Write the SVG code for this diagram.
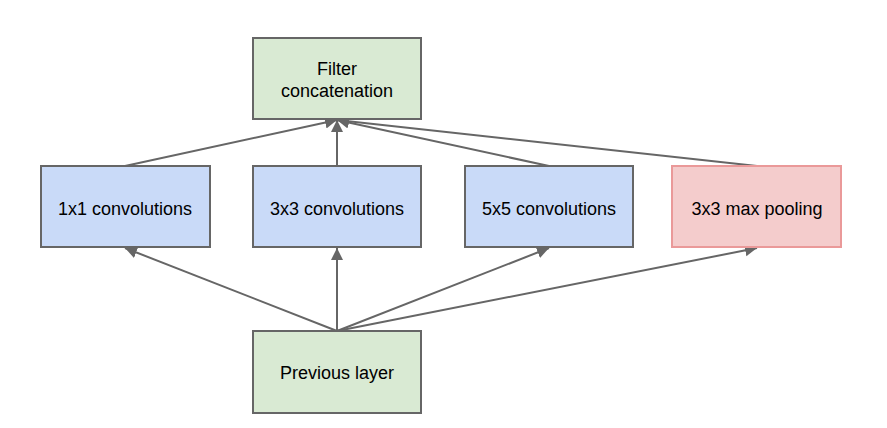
<svg xmlns="http://www.w3.org/2000/svg" width="887" height="428" viewBox="0 0 887 428">
<style>
.box{stroke:#666666;stroke-width:2}
.g{fill:#d9ead3}
.b{fill:#c9daf8}
.r{fill:#f4cccc;stroke:#ea9999;stroke-width:2}
text{font-family:"Liberation Sans",Arial,sans-serif;font-size:18px;fill:#000;text-anchor:middle}
.c line{stroke:#666666;stroke-width:2;marker-end:url(#ah)}
</style>
<defs>
<marker id="ah" markerUnits="userSpaceOnUse" markerWidth="14" markerHeight="14" refX="12" refY="6" orient="auto">
<path d="M0,0 L12,6 L0,12 z" fill="#666666"/>
</marker>
</defs>
<rect width="887" height="428" fill="#ffffff"/>
<g class="c" id="connectors">
<line x1="125" y1="166" x2="337" y2="120"/>
<line x1="337" y1="166" x2="337" y2="120"/>
<line x1="549" y1="166" x2="337" y2="120"/>
<line x1="757" y1="166" x2="337" y2="120"/>
<line x1="337" y1="331" x2="125" y2="248"/>
<line x1="337" y1="331" x2="337" y2="248"/>
<line x1="337" y1="331" x2="549" y2="248"/>
<line x1="337" y1="331" x2="757" y2="248"/>
</g>
<g id="filter-concat">
<rect class="box g" x="253" y="38" width="168" height="81"/>
<text x="337" y="75">Filter</text>
<text x="337" y="97">concatenation</text>
</g>
<g id="conv1x1">
<rect class="box b" x="41" y="166" width="169" height="81"/>
<text x="125" y="215">1x1 convolutions</text>
</g>
<g id="conv3x3">
<rect class="box b" x="253" y="166" width="168" height="81"/>
<text x="337" y="215">3x3 convolutions</text>
</g>
<g id="conv5x5">
<rect class="box b" x="465" y="166" width="168" height="81"/>
<text x="549" y="215">5x5 convolutions</text>
</g>
<g id="maxpool">
<rect class="r" x="672" y="166" width="169" height="81"/>
<text x="757" y="215">3x3 max pooling</text>
</g>
<g id="previous-layer">
<rect class="box g" x="253" y="331" width="168" height="82"/>
<text x="337" y="379">Previous layer</text>
</g>
</svg>
